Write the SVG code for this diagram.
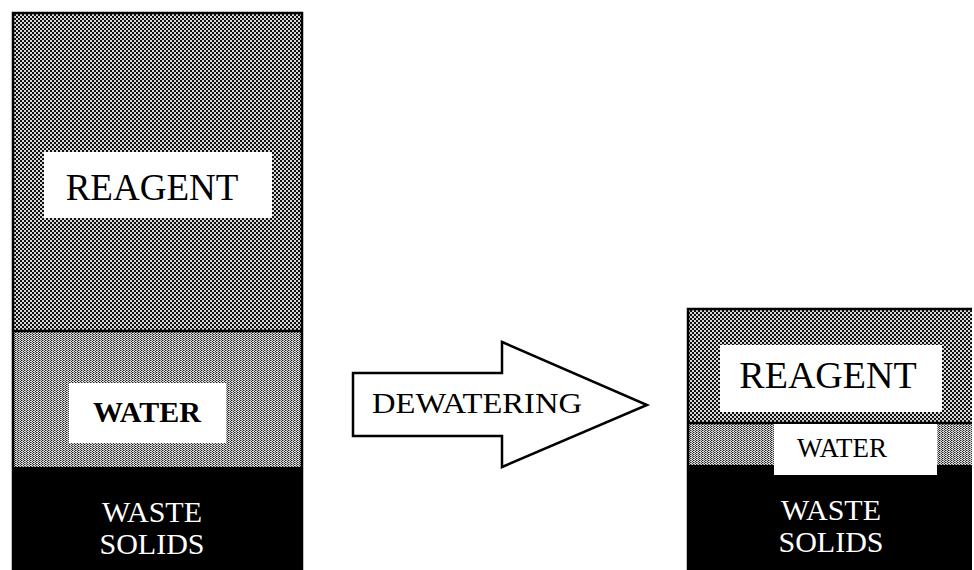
<svg xmlns="http://www.w3.org/2000/svg" width="974" height="570" viewBox="0 0 974 570">
  <defs>
    <!-- coarse checker used for the reagent layer -->
    <pattern id="reagentFill" width="4" height="4" patternUnits="userSpaceOnUse">
      <rect width="4" height="4" fill="#d8d8d8"/>
      <rect x="0" y="0" width="2" height="2" fill="#111111"/>
      <rect x="2" y="2" width="2" height="2" fill="#111111"/>
    </pattern>
    <!-- fine, lighter texture used for the water layer -->
    <pattern id="waterFill" width="3" height="2" patternUnits="userSpaceOnUse">
      <rect width="3" height="2" fill="#dcdcdc"/>
      <rect x="0" y="0" width="1" height="1" fill="#222222"/>
      <rect x="2" y="1" width="1" height="1" fill="#333333"/>
      <rect x="1" y="0" width="1" height="1" fill="#888888"/>
    </pattern>
    <style>
      .lbl { font-family: "Liberation Serif", "Times New Roman", serif; fill: #000; text-anchor: middle; }
      .inv { font-family: "Liberation Serif", "Times New Roman", serif; fill: #fff; text-anchor: middle; font-size: 30px; }
      .box { fill: #ffffff; }
      .edge { fill: none; stroke: #000; stroke-width: 2.5; }
      .divider { stroke: #000; stroke-width: 2.5; }
    </style>
  </defs>

  <rect width="974" height="570" fill="#ffffff"/>

  <!-- column before dewatering -->
  <g id="before">
    <rect x="12" y="12" width="291" height="318" fill="url(#reagentFill)"/>
    <rect x="12" y="330" width="291" height="137" fill="url(#waterFill)"/>
    <rect x="12" y="467" width="291" height="103" fill="#000"/>
    <path class="edge" d="M13,570 V13 H302 V570"/>
    <line class="divider" x1="12" y1="331" x2="303" y2="331"/>
    <g id="before-reagent">
      <rect class="box" x="44" y="152" width="228" height="66"/>
      <text class="lbl" x="152" y="200" font-size="37">REAGENT</text>
    </g>
    <g id="before-water">
      <rect class="box" x="69" y="383" width="157" height="60"/>
      <text class="lbl" x="147" y="422" font-size="30" font-weight="bold">WATER</text>
    </g>
    <g id="before-solids">
      <text class="inv" x="152" y="522">WASTE</text>
      <text class="inv" x="152" y="554">SOLIDS</text>
    </g>
  </g>

  <!-- process arrow -->
  <g id="dewatering">
    <path d="M353,373 H502 V342 L647,405 L502,467 V436 H353 Z" fill="#fff" stroke="#000" stroke-width="2.5" stroke-linejoin="miter"/>
    <text class="lbl" x="477" y="413" font-size="29" textLength="210" lengthAdjust="spacingAndGlyphs">DEWATERING</text>
  </g>

  <!-- column after dewatering -->
  <g id="after">
    <rect x="687" y="308" width="285" height="115" fill="url(#reagentFill)"/>
    <rect x="687" y="423" width="285" height="42" fill="url(#waterFill)"/>
    <rect x="687" y="465" width="285" height="105" fill="#000"/>
    <path class="edge" d="M688,570 V309 H972"/>
    <line class="divider" x1="687" y1="423" x2="972" y2="423"/>
    <g id="after-reagent">
      <rect class="box" x="720" y="345" width="222" height="67"/>
      <text class="lbl" x="828" y="388" font-size="38">REAGENT</text>
    </g>
    <g id="after-water">
      <rect class="box" x="774" y="424" width="163" height="51"/>
      <text class="lbl" x="842" y="457" font-size="27">WATER</text>
    </g>
    <g id="after-solids">
      <text class="inv" x="831" y="520">WASTE</text>
      <text class="inv" x="831" y="552">SOLIDS</text>
    </g>
  </g>
</svg>
